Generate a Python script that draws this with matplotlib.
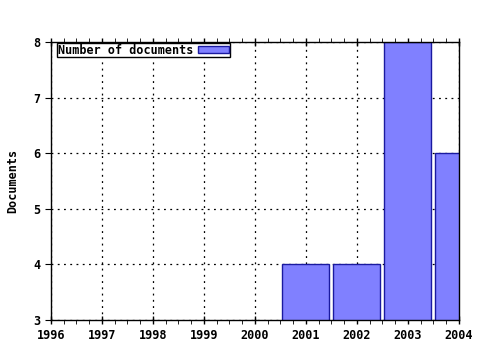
import matplotlib
matplotlib.use('Agg')
import matplotlib.pyplot as plt
from matplotlib.ticker import AutoMinorLocator

years = [2001, 2002, 2003, 2004]
docs = [4, 4, 8, 6]
year_ticks = list(range(1996, 2005))
doc_ticks = [3, 4, 5, 6, 7, 8]

plt.rcParams['font.family'] = ['DejaVu Sans Mono']
plt.rcParams['font.weight'] = 'bold'

fig = plt.figure(figsize=(4.8, 3.5), dpi=100)
ax = fig.add_axes([0.106, 0.086, 0.85, 0.794])

ax.bar(years, docs, width=0.92, bottom=0, color='#8080ff', edgecolor='#1a1aa0',
       linewidth=1, label='Number of documents', zorder=3)

ax.set_xlim(1996, 2004)
ax.set_ylim(3, 8)
ax.set_xticks(year_ticks)
ax.set_xticklabels([str(y) for y in year_ticks], fontsize=8.5, fontweight='bold')
ax.set_yticks(doc_ticks)
ax.set_yticklabels([str(d) for d in doc_ticks], fontsize=8.5, fontweight='bold')
ax.xaxis.set_minor_locator(AutoMinorLocator(4))
ax.tick_params(axis='x', which='major', direction='inout', length=6, top=True, width=1)
ax.tick_params(axis='x', which='minor', direction='out', length=3, top=True)
ax.tick_params(axis='y', which='major', direction='out', length=4)
ax.grid(True, which='major', color='black', linestyle=(0, (1.5, 3.5)), linewidth=0.9, zorder=0)

for s in ax.spines.values():
    s.set_linewidth(1)
    s.set_zorder(4)

ax.set_ylabel('Documents', fontsize=8.5, fontweight='bold', labelpad=10)

leg = ax.legend(loc='upper left', fontsize=8.5, frameon=True, fancybox=False,
                framealpha=1, edgecolor='black', borderpad=0.05, handlelength=2.65,
                handleheight=0.6, handletextpad=0.4, markerfirst=False,
                bbox_to_anchor=(0.012, 1.0), borderaxespad=0.1)
leg.get_frame().set_linewidth(1)

fig.savefig('out.png', dpi=100)
